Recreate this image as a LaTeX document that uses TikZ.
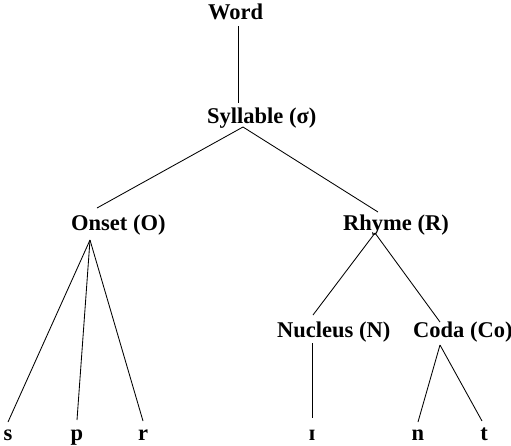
\documentclass[tikz,border=0pt]{standalone}
\usepackage{fontspec}
\setmainfont{Liberation Serif}
\begin{document}
\begin{tikzpicture}[x=1pt,y=-1pt,
  lbl/.style={font=\fontsize{22.5}{24}\selectfont\bfseries, inner sep=0pt, anchor=base west},
  seg/.style={font=\fontsize{22.5}{24}\selectfont\bfseries, inner sep=0pt, anchor=base},
  edge/.style={line width=0.85pt}]
\useasboundingbox (0,0) rectangle (511,445);
% constituent labels (left end of baseline)
\node[lbl] (word) at (208,19) {Word};
\node[lbl] (syl) at (207,123) {Syllable (σ)};
\node[lbl] (onset) at (71,230) {Onset (O)};
\node[lbl] (rhyme) at (343,230) {Rhyme (R)};
\node[lbl] (nuc) at (277,337) {Nucleus (N)};
\node[lbl] (coda) at (413,337) {Coda (Co)};
% segments
\node[seg] (s) at (8,440) {s};
\node[seg] (p) at (77,440) {p};
\node[seg] (r) at (143,440) {r};
\node[seg] (i) at (312,440) {ɪ};
\node[seg] (n) at (418,440) {n};
\node[seg] (t) at (484,440) {t};
% branch points
\coordinate (wB) at (238,26);
\coordinate (sT) at (238,103);
\coordinate (sB) at (243,127);
\coordinate (oT) at (97,208);
\coordinate (rT) at (378,212);
\coordinate (oB) at (90,240);
\coordinate (rB) at (375,233);
\coordinate (nT) at (313,315);
\coordinate (cT) at (440,322);
\coordinate (nB) at (312,343);
\coordinate (cB) at (440,345);
\coordinate (sBt) at (8,422);
\coordinate (pBt) at (77,420);
\coordinate (rBt) at (143,421);
\coordinate (iBt) at (312,418);
\coordinate (nBt) at (418,422);
\coordinate (tBt) at (482,421);
\draw[edge] (wB) -- (sT);
\draw[edge] (sB) -- (oT);
\draw[edge] (sB) -- (rT);
\draw[edge] (oB) -- (sBt);
\draw[edge] (oB) -- (pBt);
\draw[edge] (oB) -- (rBt);
\draw[edge] (rB) -- (nT);
\draw[edge] (rB) -- (cT);
\draw[edge] (nB) -- (iBt);
\draw[edge] (cB) -- (nBt);
\draw[edge] (cB) -- (tBt);
\end{tikzpicture}
\end{document}
